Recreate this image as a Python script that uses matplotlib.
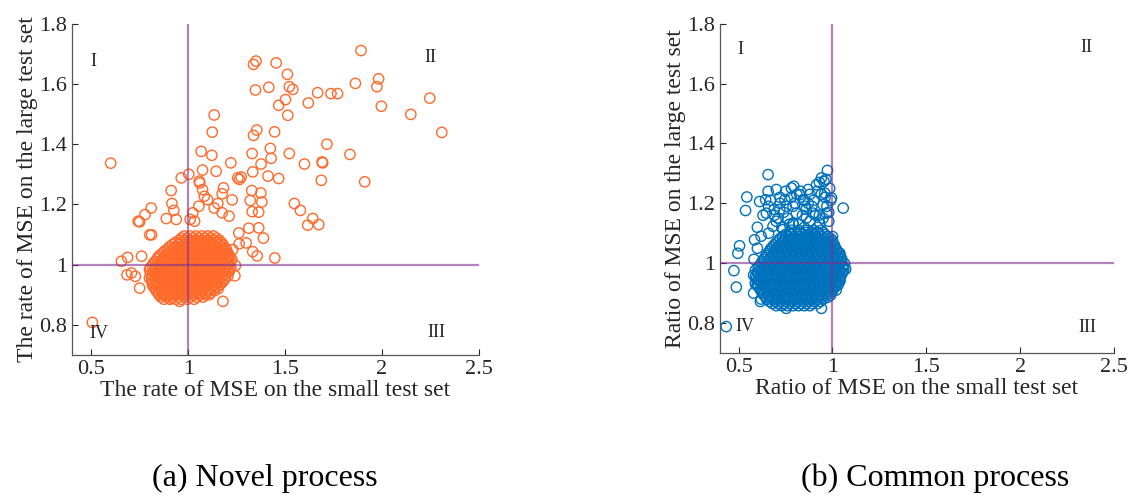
import matplotlib.pyplot as plt

plt.rcParams['font.family'] = ['Liberation Serif', 'DejaVu Serif']

# ---- data: (a) Novel process ----
novel_out_x = [1.892, 1.454, 1.350, 1.337, 1.347, 1.416, 1.512, 1.522, 1.540, 1.502, 1.467, 1.514,
               1.620, 1.668, 1.737, 1.771, 1.863, 1.983, 1.974, 1.997, 2.247, 2.149, 2.309, 1.134,
               1.124, 1.354, 1.337, 1.446, 1.716, 1.835, 1.522, 1.424, 1.428, 1.330, 1.376, 1.600,
               1.691, 1.694, 1.687, 1.911, 1.467, 1.412, 1.333, 1.220, 1.144, 1.122, 1.067, 0.600,
               1.003, 0.964, 1.074, 1.057, 1.060, 1.256, 1.265, 1.273, 0.912, 1.328, 1.375, 1.380,
               1.320, 1.330, 1.364, 1.227, 1.182, 1.175, 1.074, 1.083, 1.100, 1.153, 1.134, 1.175,
               1.211, 1.055, 1.024, 1.010, 1.033, 0.926, 0.938, 0.887, 0.809, 0.777, 0.742, 0.749,
               0.811, 0.801, 0.916, 1.548, 1.579, 1.643, 1.674, 1.617, 1.313, 1.364, 1.388, 1.333,
               1.356, 1.447, 1.299, 1.261, 1.263, 1.179, 0.505, 0.749, 0.655, 0.687, 0.759, 0.684,
               0.707, 0.727, 1.241, 1.244, 1.230, 1.213, 0.869, 0.912, 0.955, 1.057, 1.108, 1.144]
novel_out_y = [1.711, 1.670, 1.676, 1.665, 1.580, 1.589, 1.632, 1.591, 1.582, 1.548, 1.529, 1.496,
               1.537, 1.571, 1.568, 1.568, 1.602, 1.617, 1.591, 1.526, 1.553, 1.499, 1.439, 1.497,
               1.440, 1.447, 1.429, 1.441, 1.400, 1.366, 1.369, 1.386, 1.353, 1.369, 1.334, 1.334,
               1.341, 1.338, 1.280, 1.275, 1.286, 1.294, 1.308, 1.338, 1.310, 1.363, 1.376, 1.337,
               1.300, 1.288, 1.314, 1.277, 1.271, 1.288, 1.283, 1.291, 1.246, 1.246, 1.238, 1.208,
               1.213, 1.176, 1.174, 1.215, 1.255, 1.235, 1.249, 1.227, 1.216, 1.203, 1.188, 1.172,
               1.161, 1.194, 1.172, 1.150, 1.144, 1.180, 1.150, 1.153, 1.188, 1.166, 1.144, 1.142,
               1.099, 1.099, 1.203, 1.203, 1.180, 1.153, 1.133, 1.131, 1.121, 1.122, 1.088, 1.043,
               1.029, 1.022, 1.072, 1.105, 1.069, 0.878, 0.808, 0.922, 1.011, 1.024, 1.028, 0.966,
               0.972, 0.961, 0.963, 0.997, 1.050, 1.028, 0.900, 0.889, 0.878, 0.900, 0.900, 0.934]

# dense core, one row per y value
novel_core_rows = [
    (0.885, [0.875, 0.905, 0.935, 0.965, 0.995, 1.03]),
    (0.892, [0.86, 0.89, 0.92, 0.95, 0.98, 1.01, 1.045, 1.075]),
    (0.899, [0.85, 0.88, 0.91, 0.94, 0.97, 1.00, 1.03, 1.06, 1.09]),
    (0.906, [0.845, 0.875, 0.905, 0.935, 0.965, 0.995, 1.025, 1.055, 1.085, 1.115]),
    (0.913, [0.835, 0.865, 0.895, 0.925, 0.955, 0.985, 1.015, 1.045, 1.075, 1.105, 1.135]),
    (0.920, [0.83, 0.86, 0.89, 0.92, 0.95, 0.98, 1.01, 1.04, 1.07, 1.10, 1.13, 1.155]),
    (0.927, [0.82, 0.85, 0.88, 0.91, 0.94, 0.97, 1.00, 1.03, 1.06, 1.09, 1.12, 1.15]),
    (0.934, [0.815, 0.835, 0.865, 0.895, 0.925, 0.955, 0.985, 1.015, 1.045, 1.075, 1.105, 1.135, 1.165]),
    (0.941, [0.815, 0.845, 0.875, 0.905, 0.935, 0.965, 0.995, 1.025, 1.055, 1.085, 1.115, 1.145, 1.175]),
    (0.948, [0.81, 0.83, 0.86, 0.89, 0.92, 0.95, 0.98, 1.01, 1.04, 1.07, 1.10, 1.13, 1.16, 1.185]),
    (0.955, [0.80, 0.83, 0.86, 0.89, 0.92, 0.95, 0.98, 1.01, 1.04, 1.07, 1.10, 1.13, 1.16, 1.19]),
    (0.962, [0.815, 0.845, 0.875, 0.905, 0.935, 0.965, 0.995, 1.025, 1.055, 1.085, 1.115, 1.145, 1.175, 1.205]),
    (0.969, [0.805, 0.835, 0.865, 0.895, 0.925, 0.955, 0.985, 1.015, 1.045, 1.075, 1.105, 1.135, 1.165, 1.195]),
    (0.976, [0.82, 0.85, 0.88, 0.91, 0.94, 0.97, 1.00, 1.03, 1.06, 1.09, 1.12, 1.15, 1.18, 1.21]),
    (0.983, [0.80, 0.83, 0.86, 0.89, 0.92, 0.95, 0.98, 1.01, 1.04, 1.07, 1.10, 1.13, 1.16, 1.19, 1.215]),
    (0.990, [0.805, 0.83, 0.86, 0.89, 0.92, 0.95, 0.98, 1.01, 1.04, 1.07, 1.10, 1.13, 1.16, 1.19, 1.22]),
    (0.997, [0.815, 0.845, 0.875, 0.905, 0.935, 0.965, 0.995, 1.025, 1.055, 1.085, 1.115, 1.145, 1.175, 1.205]),
    (1.004, [0.82, 0.85, 0.88, 0.91, 0.94, 0.97, 1.00, 1.03, 1.06, 1.09, 1.12, 1.15, 1.18, 1.21]),
    (1.011, [0.83, 0.86, 0.89, 0.92, 0.95, 0.98, 1.01, 1.04, 1.07, 1.10, 1.13, 1.16, 1.19, 1.22]),
    (1.018, [0.84, 0.87, 0.90, 0.93, 0.96, 0.99, 1.02, 1.05, 1.08, 1.11, 1.14, 1.17, 1.20, 1.225]),
    (1.025, [0.845, 0.875, 0.905, 0.935, 0.965, 0.995, 1.025, 1.055, 1.085, 1.115, 1.145, 1.175, 1.205]),
    (1.032, [0.855, 0.885, 0.915, 0.945, 0.975, 1.005, 1.035, 1.065, 1.095, 1.125, 1.155, 1.185, 1.21]),
    (1.039, [0.87, 0.90, 0.93, 0.96, 0.99, 1.02, 1.05, 1.08, 1.11, 1.14, 1.17, 1.20]),
    (1.046, [0.88, 0.91, 0.94, 0.97, 1.00, 1.03, 1.06, 1.09, 1.12, 1.15, 1.18, 1.20]),
    (1.053, [0.895, 0.925, 0.955, 0.985, 1.015, 1.045, 1.075, 1.105, 1.135, 1.165, 1.195]),
    (1.060, [0.905, 0.935, 0.965, 0.995, 1.025, 1.055, 1.085, 1.115, 1.145, 1.175]),
    (1.067, [0.92, 0.95, 0.98, 1.01, 1.04, 1.07, 1.10, 1.13, 1.16, 1.18]),
    (1.074, [0.935, 0.965, 0.995, 1.025, 1.055, 1.085, 1.115, 1.145, 1.17]),
    (1.081, [0.955, 0.985, 1.015, 1.045, 1.075, 1.105, 1.135, 1.16]),
    (1.088, [0.965, 0.995, 1.025, 1.055, 1.085, 1.115, 1.145]),
    (1.095, [0.98, 1.01, 1.04, 1.07, 1.10, 1.13]),
]

# ---- data: (b) Common process ----
common_out_x = [0.434, 0.488, 0.475, 0.496, 0.505, 0.544, 0.537, 0.585, 0.582, 0.580, 0.616, 0.657,
                0.657, 0.612, 0.644, 0.648, 0.701, 0.754, 0.781, 0.794, 0.826, 0.870, 0.915, 0.941,
                0.955, 0.973, 0.959, 0.995, 1.057, 0.968, 0.897, 0.852, 0.808, 0.719, 0.683, 0.737,
                0.790, 0.861, 0.932, 0.950, 0.746, 0.843, 0.941, 0.888, 0.754, 0.701, 1.030, 1.060,
                1.039, 1.000, 0.70, 0.76, 0.82, 0.88, 0.92, 0.98, 0.66, 0.72, 0.80, 0.86, 0.90,
                0.94, 0.985, 0.60, 0.63, 0.69, 0.74, 0.77, 0.84, 0.87, 0.91, 0.95, 0.97, 0.83,
                0.88, 0.71, 0.99, 0.67, 0.78, 0.93, 0.965,
                0.62, 0.66, 0.69, 0.72, 0.75, 0.79, 0.81, 0.85, 0.89, 0.92, 0.96, 0.98, 0.73,
                0.79, 0.85, 0.93, 0.60, 0.58, 0.59, 0.62, 1.07, 1.04, 1.02]
common_out_y = [0.788, 0.920, 0.975, 1.033, 1.058, 1.221, 1.176, 1.078, 1.013, 0.900, 0.872, 1.296,
                1.240, 1.206, 1.212, 1.167, 1.246, 1.190, 1.251, 1.257, 1.229, 1.246, 1.262, 1.285,
                1.273, 1.310, 1.234, 1.218, 1.184, 1.167, 1.167, 1.190, 1.167, 1.179, 1.123, 1.112,
                1.134, 1.151, 1.134, 1.195, 1.212, 1.212, 0.849, 0.877, 0.849, 0.877, 0.927, 0.989,
                1.033, 1.089, 1.14, 1.15, 1.13, 1.14, 1.12, 1.14, 1.19, 1.22, 1.20, 1.18, 1.21,
                1.23, 1.25, 1.12, 1.16, 1.18, 1.17, 1.13, 1.16, 1.20, 1.16, 1.15, 1.19, 1.24,
                1.23, 1.15, 1.21, 1.21, 1.22, 1.27, 1.28,
                1.09, 1.10, 1.16, 1.20, 1.24, 1.19, 1.23, 1.21, 1.19, 1.24, 1.22, 1.17, 1.12,
                1.13, 1.12, 1.16, 1.05, 0.96, 0.93, 0.88, 0.98, 0.94, 0.91]

common_core_rows = [
    (0.858, [0.70, 0.73, 0.76, 0.79, 0.82, 0.85, 0.88]),
    (0.865, [0.68, 0.71, 0.74, 0.77, 0.80, 0.83, 0.86, 0.89, 0.92]),
    (0.872, [0.665, 0.695, 0.725, 0.755, 0.785, 0.815, 0.845, 0.875, 0.905, 0.935]),
    (0.879, [0.65, 0.68, 0.71, 0.74, 0.77, 0.80, 0.83, 0.86, 0.89, 0.92, 0.95]),
    (0.886, [0.645, 0.675, 0.705, 0.735, 0.765, 0.795, 0.825, 0.855, 0.885, 0.915, 0.945, 0.975]),
    (0.893, [0.635, 0.665, 0.695, 0.725, 0.755, 0.785, 0.815, 0.845, 0.875, 0.905, 0.935, 0.965, 0.99]),
    (0.900, [0.63, 0.66, 0.69, 0.72, 0.75, 0.78, 0.81, 0.84, 0.87, 0.90, 0.93, 0.96, 0.99]),
    (0.907, [0.62, 0.65, 0.68, 0.71, 0.74, 0.77, 0.80, 0.83, 0.86, 0.89, 0.92, 0.95, 0.98, 1.00]),
    (0.914, [0.615, 0.645, 0.675, 0.705, 0.735, 0.765, 0.795, 0.825, 0.855, 0.885, 0.915, 0.945, 0.975, 1.005]),
    (0.921, [0.605, 0.635, 0.665, 0.695, 0.725, 0.755, 0.785, 0.815, 0.845, 0.875, 0.905, 0.935, 0.965, 0.995, 1.015]),
    (0.928, [0.60, 0.63, 0.66, 0.69, 0.72, 0.75, 0.78, 0.81, 0.84, 0.87, 0.90, 0.93, 0.96, 0.99, 1.02]),
    (0.935, [0.59, 0.62, 0.65, 0.68, 0.71, 0.74, 0.77, 0.80, 0.83, 0.86, 0.89, 0.92, 0.95, 0.98, 1.01, 1.03]),
    (0.942, [0.605, 0.635, 0.665, 0.695, 0.725, 0.755, 0.785, 0.815, 0.845, 0.875, 0.905, 0.935, 0.965, 0.995, 1.025]),
    (0.949, [0.595, 0.625, 0.655, 0.685, 0.715, 0.745, 0.775, 0.805, 0.835, 0.865, 0.895, 0.925, 0.955, 0.985, 1.015, 1.04]),
    (0.956, [0.59, 0.62, 0.65, 0.68, 0.71, 0.74, 0.77, 0.80, 0.83, 0.86, 0.89, 0.92, 0.95, 0.98, 1.01, 1.04]),
    (0.963, [0.605, 0.635, 0.665, 0.695, 0.725, 0.755, 0.785, 0.815, 0.845, 0.875, 0.905, 0.935, 0.965, 0.995, 1.025, 1.05]),
    (0.970, [0.60, 0.63, 0.66, 0.69, 0.72, 0.75, 0.78, 0.81, 0.84, 0.87, 0.90, 0.93, 0.96, 0.99, 1.02, 1.05]),
    (0.977, [0.59, 0.62, 0.65, 0.68, 0.71, 0.74, 0.77, 0.80, 0.83, 0.86, 0.89, 0.92, 0.95, 0.98, 1.01, 1.04, 1.06]),
    (0.984, [0.605, 0.635, 0.665, 0.695, 0.725, 0.755, 0.785, 0.815, 0.845, 0.875, 0.905, 0.935, 0.965, 0.995, 1.025, 1.055]),
    (0.991, [0.61, 0.64, 0.67, 0.70, 0.73, 0.76, 0.79, 0.82, 0.85, 0.88, 0.91, 0.94, 0.97, 1.00, 1.03, 1.055]),
    (0.998, [0.62, 0.65, 0.68, 0.71, 0.74, 0.77, 0.80, 0.83, 0.86, 0.89, 0.92, 0.95, 0.98, 1.01, 1.04, 1.065]),
    (1.005, [0.625, 0.655, 0.685, 0.715, 0.745, 0.775, 0.805, 0.835, 0.865, 0.895, 0.925, 0.955, 0.985, 1.015, 1.045]),
    (1.012, [0.635, 0.665, 0.695, 0.725, 0.755, 0.785, 0.815, 0.845, 0.875, 0.905, 0.935, 0.965, 0.995, 1.025, 1.05]),
    (1.019, [0.64, 0.67, 0.70, 0.73, 0.76, 0.79, 0.82, 0.85, 0.88, 0.91, 0.94, 0.97, 1.00, 1.03, 1.045]),
    (1.026, [0.65, 0.68, 0.71, 0.74, 0.77, 0.80, 0.83, 0.86, 0.89, 0.92, 0.95, 0.98, 1.01, 1.04]),
    (1.033, [0.655, 0.685, 0.715, 0.745, 0.775, 0.805, 0.835, 0.865, 0.895, 0.925, 0.955, 0.985, 1.015, 1.035]),
    (1.040, [0.665, 0.695, 0.725, 0.755, 0.785, 0.815, 0.845, 0.875, 0.905, 0.935, 0.965, 0.995, 1.025]),
    (1.047, [0.67, 0.70, 0.73, 0.76, 0.79, 0.82, 0.85, 0.88, 0.91, 0.94, 0.97, 1.00, 1.02]),
    (1.054, [0.68, 0.71, 0.74, 0.77, 0.80, 0.83, 0.86, 0.89, 0.92, 0.95, 0.98, 1.01]),
    (1.061, [0.69, 0.72, 0.75, 0.78, 0.81, 0.84, 0.87, 0.90, 0.93, 0.96, 0.99, 1.01]),
    (1.068, [0.70, 0.73, 0.76, 0.79, 0.82, 0.85, 0.88, 0.91, 0.94, 0.97, 1.00]),
    (1.075, [0.71, 0.74, 0.77, 0.80, 0.83, 0.86, 0.89, 0.92, 0.95, 0.98, 1.00]),
    (1.082, [0.72, 0.75, 0.78, 0.81, 0.84, 0.87, 0.90, 0.93, 0.96, 0.99]),
    (1.089, [0.735, 0.765, 0.795, 0.825, 0.855, 0.885, 0.915, 0.945, 0.975]),
    (1.096, [0.75, 0.78, 0.81, 0.84, 0.87, 0.90, 0.93, 0.96]),
    (1.103, [0.77, 0.80, 0.83, 0.86, 0.89, 0.92, 0.95]),
    (1.110, [0.78, 0.82, 0.86, 0.90, 0.94]),
]

quadrant_labels = ["I", "II", "III", "IV"]
novel_label_pos = [(0.51, 1.674), (2.25, 1.687), (2.28, 0.776), (0.54, 0.770)]
common_label_pos = [(0.51, 1.714), (2.35, 1.720), (2.36, 0.784), (0.535, 0.790)]


def flatten(rows, extra_x, extra_y):
    xs, ys = list(extra_x), list(extra_y)
    for yv, row in rows:
        xs += row
        ys += [yv] * len(row)
    return xs, ys


novel_x, novel_y = flatten(novel_core_rows, novel_out_x, novel_out_y)
common_x, common_y = flatten(common_core_rows, common_out_x, common_out_y)

fig = plt.figure(figsize=(11.3, 4.95), dpi=100)
ax1 = fig.add_axes([0.0637, 0.283, 0.360, 0.669])
ax2 = fig.add_axes([0.637, 0.287, 0.349, 0.665])

panels = [
    (ax1, novel_x, novel_y, '#FF6A2B', novel_label_pos,
     'The rate of MSE on the small test set', 'The rate of MSE on the large test set'),
    (ax2, common_x, common_y, '#0072BD', common_label_pos,
     'Ratio of MSE on the small test set', 'Ratio of MSE on the large test set'),
]

for ax, xs, ys, col, lpos, xl, yl in panels:
    ax.scatter(xs, ys, s=55, facecolors='none', edgecolors=col, linewidths=1.0, zorder=2)
    ax.axvline(1, color='#7E2F8E', alpha=0.6, lw=1.6, zorder=3)
    ax.axhline(1, color='#7E2F8E', alpha=0.6, lw=1.6, zorder=3)
    ax.set_xlim(0.4, 2.5)
    ax.set_ylim(0.7, 1.8)
    ax.set_xticks([0.5, 1, 1.5, 2, 2.5])
    ax.set_xticklabels(['0.5', '1', '1.5', '2', '2.5'])
    ax.set_yticks([0.8, 1, 1.2, 1.4, 1.6, 1.8])
    ax.set_yticklabels(['0.8', '1', '1.2', '1.4', '1.6', '1.8'])
    ax.tick_params(direction='in', length=4, width=0.8, labelsize=16, colors='#262626',
                   labelcolor='#262626')
    for side in ['top', 'right']:
        ax.spines[side].set_visible(False)
    for side in ['left', 'bottom']:
        ax.spines[side].set_color('#555555')
        ax.spines[side].set_linewidth(0.9)
    ax.set_xlabel(xl, fontsize=17, color='#262626', labelpad=1)
    ax.set_ylabel(yl, fontsize=17, color='#262626', labelpad=1)
    for lab, (lx, ly) in zip(quadrant_labels, lpos):
        ax.text(lx, ly, lab, fontsize=13, ha='center', va='center', color='#262626')

fig.text(0.2345, 0.034, '(a) Novel process', fontsize=23, ha='center', va='center')
fig.text(0.8275, 0.034, '(b) Common process', fontsize=23, ha='center', va='center')

fig.savefig('out.png', dpi=100)
